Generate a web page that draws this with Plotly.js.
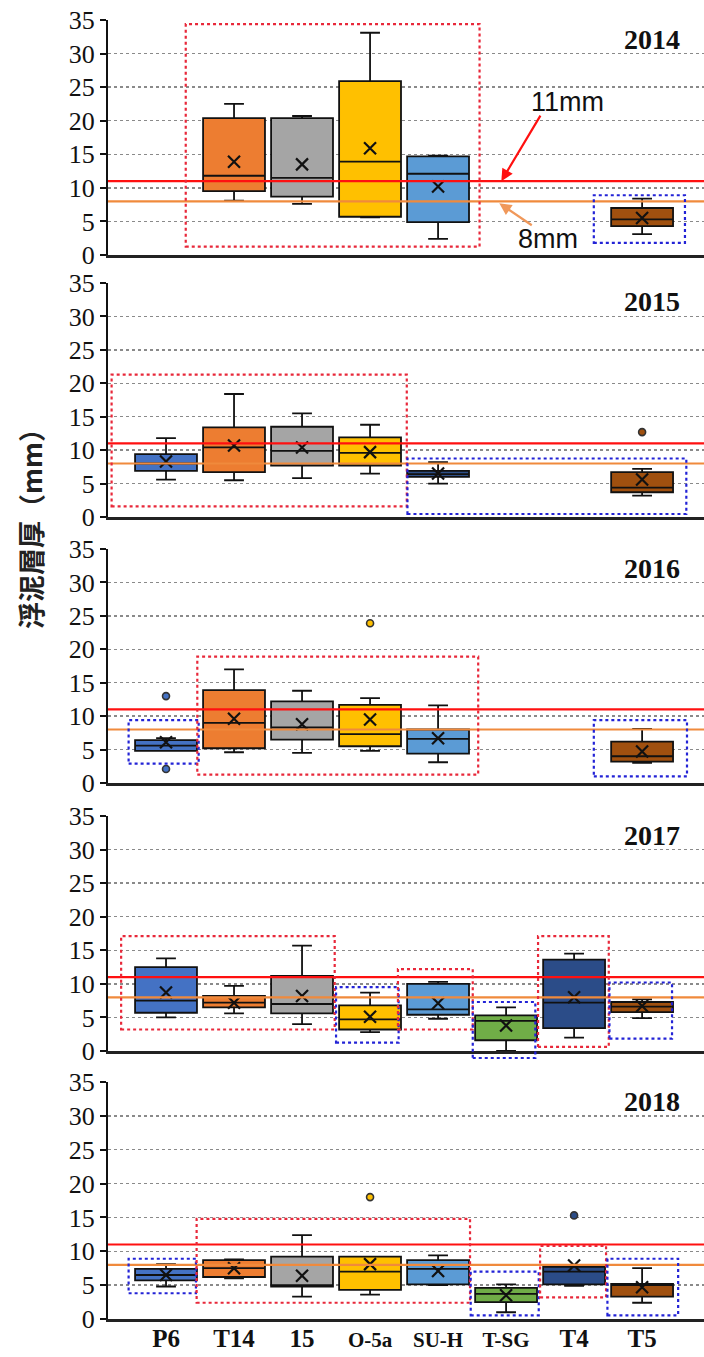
<!DOCTYPE html>
<html><head><meta charset="utf-8">
<script src="https://cdn.plot.ly/plotly-3.0.1.min.js"></script>
<style>html,body{margin:0;padding:0;background:#fff}</style>
</head><body><div id="chart" style="width:704px;height:1357px"></div>
<script>
// ---------- DATA ----------
const categories = ['P6','T14','15','O-5a','SU-H','T-SG','T4','T5'];
const years = ['2014','2015','2016','2017','2018'];
const yTicks = [0,5,10,15,20,25,30,35];
// per category: [lower whisker, Q1, median, Q3, upper whisker, mean]; null = not surveyed
const stats2014 = [
  null,
  [8.1, 9.5, 11.8, 20.4, 22.5, 13.9],
  [7.6, 8.7, 11.5, 20.4, 20.7, 13.5],
  [5.6, 5.7, 13.9, 25.9, 33.1, 15.9],
  [2.4, 4.9, 12.1, 14.7, 14.8, 10.2],
  null,
  null,
  [3.1, 4.3, 5.3, 7.0, 8.4, 5.5]
];
const stats2015 = [
  [5.6, 6.9, 8.0, 9.4, 11.8, 8.3],
  [5.5, 6.7, 10.4, 13.4, 18.4, 10.7],
  [5.8, 7.7, 9.9, 13.5, 15.5, 10.4],
  [6.5, 7.7, 9.6, 11.9, 13.8, 9.7],
  [5.0, 6.0, 6.4, 6.9, 8.2, 6.5],
  null,
  null,
  [3.2, 3.7, 4.4, 6.7, 7.2, 5.6]
];
const stats2016 = [
  [4.8, 4.8, 5.6, 6.4, 6.7, 6.1],
  [4.6, 5.2, 9.0, 13.9, 17.0, 9.6],
  [4.5, 6.5, 8.3, 12.2, 13.8, 8.8],
  [4.8, 5.5, 7.3, 11.7, 12.7, 9.5],
  [3.1, 4.4, 6.6, 8.0, 11.6, 6.7],
  null,
  null,
  [3.0, 3.2, 4.0, 6.2, 8.1, 4.7]
];
const stats2017 = [
  [5.0, 5.7, 7.5, 12.5, 13.8, 8.7],
  [5.6, 6.5, 7.2, 8.2, 9.7, 7.2],
  [4.0, 5.6, 7.0, 11.2, 15.7, 8.2],
  [2.8, 3.2, 4.7, 6.8, 8.7, 5.1],
  [4.8, 5.4, 6.2, 10.0, 10.3, 7.1],
  [0.0, 1.6, 4.5, 5.3, 6.5, 3.8],
  [2.0, 3.4, 7.2, 13.6, 14.5, 8.0],
  [4.9, 5.8, 6.6, 7.3, 7.7, 6.7]
];
const stats2018 = [
  [4.8, 5.7, 6.5, 7.4, 8.1, 6.5],
  [6.0, 6.2, 7.5, 8.7, 8.8, 7.5],
  [3.3, 4.8, 5.0, 9.2, 12.4, 6.4],
  [3.6, 4.3, 7.0, 9.2, 9.2, 8.1],
  [5.0, 5.1, 7.4, 8.7, 9.4, 7.1],
  [1.0, 2.5, 3.7, 4.6, 5.1, 3.5],
  [4.9, 5.1, 7.0, 7.7, 8.0, 7.9],
  [2.4, 3.3, 5.0, 5.2, 7.5, 4.7]
];
const statsByYear = [stats2014, stats2015, stats2016, stats2017, stats2018];
// outliers: [category, value]
const outliers2014 = [];
const outliers2015 = [['T5', 12.7]];
const outliers2016 = [['P6', 13.0], ['P6', 2.1], ['O-5a', 23.9]];
const outliers2017 = [];
const outliers2018 = [['O-5a', 18.0], ['T4', 15.3]];
const outliersByYear = [outliers2014, outliers2015, outliers2016, outliers2017, outliers2018];
// reference thresholds (mm)
const thresholdHigh = 11;
const thresholdLow = 8;

// ---------- STYLE / LAYOUT ----------
const catColors = {
  'P6':'#4472C4','T14':'#ED7D31','15':'#A5A5A5','O-5a':'#FFC000',
  'SU-H':'#5B9BD5','T-SG':'#70AD47','T4':'#2B4C88','T5':'#A0500F'
};
const colorOverride = {'2015|SU-H':'#2E4F86'};
// highlight boxes: [x0 (category units), x1, y0, y1, kind]
const highlights = [
  [[0.29,4.61,1.24,34.4,'r'],[6.29,7.63,1.8,8.9,'b']],
  [[-0.80,3.54,1.6,21.3,'r'],[3.55,7.65,0.45,8.75,'b']],
  [[-0.55,0.48,2.9,9.4,'b'],[0.46,4.59,1.25,18.9,'r'],[6.29,7.66,1.0,9.4,'b']],
  [[-0.66,2.48,3.2,17.1,'r'],[2.50,3.42,1.24,9.5,'b'],[3.41,4.51,3.2,12.2,'r'],[4.51,5.43,-1.04,7.3,'b'],[5.47,6.51,0.6,17.1,'r'],[6.52,7.44,1.84,10.2,'b']],
  [[-0.55,0.44,3.8,8.9,'b'],[0.45,4.47,2.4,14.8,'r'],[4.48,5.48,0.54,7.0,'b'],[5.5,6.47,3.2,10.8,'r'],[6.49,7.53,0.54,8.9,'b']]
];
const W = 704, H = 1357, ML = 108, MR = 0, MT = 20, MB = 38;
const panelPx = [[20,255],[283,517],[549,783],[816,1051],[1082,1319]];
const plotH = H - MT - MB;
const xRange = [-0.853, 7.91];
const yMax = 35;

const traces = [];
const layout = {
  width: W, height: H, autosize: false,
  margin: {l: ML, r: MR, t: MT, b: MB},
  paper_bgcolor: '#fff', plot_bgcolor: '#fff',
  showlegend: false, boxmode: 'overlay',
  shapes: [], annotations: []
};

years.forEach((yr, i) => {
  const n = i + 1;
  const xa = 'x' + (n === 1 ? '' : n), ya = 'y' + (n === 1 ? '' : n);
  const xk = 'xaxis' + (n === 1 ? '' : n), yk = 'yaxis' + (n === 1 ? '' : n);
  const [top, bot] = panelPx[i];
  const isLast = i === years.length - 1;
  layout[xk] = {
    domain: [0, 1], range: xRange, anchor: ya,
    showline: true, linecolor: '#222', linewidth: 2.5,
    showgrid: false, zeroline: false, ticks: '',
    tickmode: 'array', tickvals: categories.map((c, k) => k),
    ticktext: categories.map(c => (c.length > 3 ? '<span style="font-size:21px">' + c + '</span>' : c)),
    showticklabels: isLast, ticklabelstandoff: -5,
    tickfont: {family: 'Liberation Serif', size: 25, color: '#111', weight: 'bold'},
    fixedrange: true
  };
  layout[yk] = {
    domain: [(H - MB - bot) / plotH, (H - MB - top) / plotH],
    range: [0, yMax], anchor: xa,
    tickmode: 'array', tickvals: yTicks,
    showgrid: true, gridcolor: '#8a8a8a', gridwidth: 1.3, griddash: 'dot',
    zeroline: false, showline: true, linecolor: '#111', linewidth: 2,
    ticks: 'outside', ticklen: 6, tickwidth: 2, tickcolor: '#111',
    tickfont: {family: 'Liberation Serif', size: 26, color: '#111'},
    fixedrange: true
  };

  const stats = statsByYear[i];
  const mx = [], my = [];
  stats.forEach((s, k) => {
    if (!s) return;
    const cat = categories[k];
    const col = colorOverride[yr + '|' + cat] || catColors[cat];
    traces.push({
      type: 'box', x: [k], lowerfence: [s[0]], q1: [s[1]], median: [s[2]], q3: [s[3]], upperfence: [s[4]],
      xaxis: xa, yaxis: ya, width: 0.91, whiskerwidth: 0.32,
      fillcolor: col, line: {color: '#111', width: 1.8},
      boxpoints: false, hoverinfo: 'skip', showlegend: false
    });
    mx.push(k); my.push(s[5]);
  });

  // threshold lines
  layout.shapes.push({type: 'line', xref: xa + ' domain', yref: ya, x0: 0, x1: 1, y0: thresholdHigh, y1: thresholdHigh,
    line: {color: '#FF1010', width: 2.2}, layer: 'above'});
  layout.shapes.push({type: 'line', xref: xa + ' domain', yref: ya, x0: 0, x1: 1, y0: thresholdLow, y1: thresholdLow,
    line: {color: '#F08A3C', width: 2.2}, layer: 'above'});

  // mean markers
  traces.push({type: 'scatter', mode: 'markers', x: mx, y: my, xaxis: xa, yaxis: ya,
    marker: {symbol: 'x-thin', size: 12, line: {width: 2.2, color: '#111'}, color: '#111'},
    hoverinfo: 'skip', showlegend: false, cliponaxis: false});

  // outliers
  const ol = outliersByYear[i];
  if (ol.length) {
    traces.push({type: 'scatter', mode: 'markers',
      x: ol.map(o => categories.indexOf(o[0])), y: ol.map(o => o[1]), xaxis: xa, yaxis: ya,
      marker: {symbol: 'circle', size: 7, color: ol.map(o => catColors[o[0]]), line: {width: 1.6, color: '#333'}},
      hoverinfo: 'skip', showlegend: false, cliponaxis: false});
  }

  // highlight dotted boxes
  highlights[i].forEach(h => {
    layout.shapes.push({type: 'rect', xref: xa, yref: ya + ' domain',
      x0: h[0], x1: h[1], y0: h[2] / yMax, y1: h[3] / yMax,
      line: {color: h[4] === 'r' ? '#E8283A' : '#2323D6', width: 2.2, dash: 'dot'},
      fillcolor: 'rgba(0,0,0,0)', layer: 'above'});
  });

  // year label
  layout.annotations.push({xref: xa + ' domain', yref: ya + ' domain', x: 0.963, y: 1 - 19 / (bot - top),
    xanchor: 'right', yanchor: 'middle', showarrow: false, text: yr,
    font: {family: 'Liberation Serif', size: 28, color: '#111', weight: 'bold'}});
});

// threshold call-outs in 2014 panel
layout.annotations.push({xref: 'x', yref: 'y', x: 5.9, y: 22.8, text: '11mm', showarrow: false,
  font: {family: 'Liberation Sans', size: 27, color: '#111'}});
layout.annotations.push({xref: 'x', yref: 'y', x: 5.61, y: 2.4, text: '8mm', showarrow: false,
  font: {family: 'Liberation Sans', size: 27, color: '#111'}});
layout.annotations.push({xref: 'x', yref: 'y', x: 4.93, y: thresholdHigh, text: '', showarrow: true,
  ax: 40, ay: -67, arrowhead: 2, arrowsize: 1.1, arrowwidth: 2.2, arrowcolor: '#FF1010', standoff: 0});
layout.annotations.push({xref: 'x', yref: 'y', x: 4.9, y: 7.7, text: '', showarrow: true,
  ax: 34, ay: 23, arrowhead: 2, arrowsize: 1.1, arrowwidth: 2.2, arrowcolor: '#F0985A', standoff: 0});

// y-axis title
layout.annotations.push({xref: 'paper', yref: 'paper', x: (30 - ML) / (W - ML - MR), y: (H - MB - 522) / plotH,
  xanchor: 'center', yanchor: 'middle', textangle: -90, showarrow: false,
  text: '浮泥層厚（mm）', font: {family: 'Noto Sans CJK JP', size: 27, color: '#222', weight: 'bold'}});

Plotly.newPlot('chart', traces, layout, {staticPlot: true});
</script>
</body></html>
